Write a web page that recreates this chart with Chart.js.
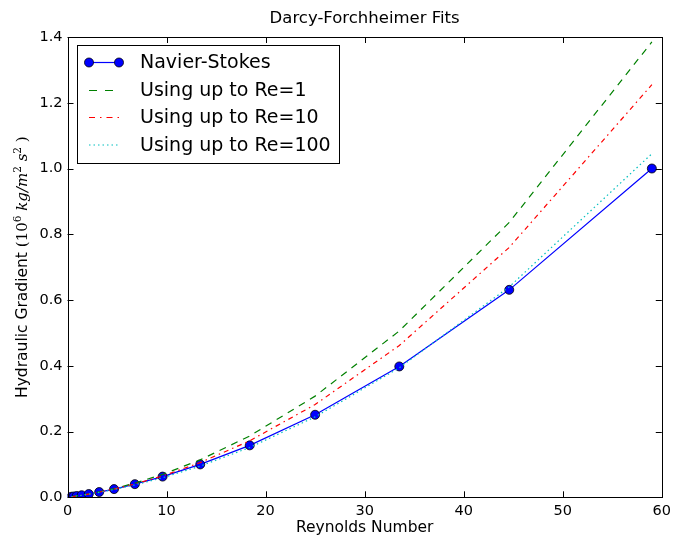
<!DOCTYPE html>
<html>
<head>
<meta charset="utf-8">
<script src="https://cdn.jsdelivr.net/npm/chart.js@4/dist/chart.umd.min.js"></script>
<style>
  html, body { margin: 0; padding: 0; background: #ffffff; }
  #wrap { width: 676px; height: 542px; }
</style>
</head>
<body>
<div id="wrap"><canvas id="c" width="676" height="542"></canvas></div>
<script>
// Reynolds numbers of the simulated cases
const reynolds = [0.38, 0.6, 0.93, 1.43, 2.15, 3.2, 4.7, 6.8, 9.6, 13.4, 18.4, 25.0, 33.5, 44.6, 59.0];
// Hydraulic gradient from the Navier-Stokes runs (10^6 kg/m^2 s^2)
const navierStokes = [0.0016, 0.0025, 0.004, 0.0063, 0.010, 0.016, 0.025, 0.040, 0.063, 0.100, 0.158, 0.251, 0.398, 0.631, 1.000];
// Darcy-Forchheimer fits evaluated at the same Reynolds numbers
const fitRe1   = [0.0016, 0.0026, 0.0041, 0.0065, 0.0103, 0.0165, 0.0265, 0.0430, 0.0696, 0.1139, 0.1866, 0.3077, 0.506, 0.836, 1.385];
const fitRe10  = [0.0015, 0.0025, 0.0039, 0.0062, 0.0098, 0.0156, 0.0250, 0.0404, 0.0649, 0.1056, 0.1719, 0.2821, 0.4617, 0.760, 1.255];
const fitRe100 = [0.0015, 0.0025, 0.0039, 0.0061, 0.0096, 0.0150, 0.0237, 0.0376, 0.0594, 0.0948, 0.1516, 0.2445, 0.394, 0.640, 1.045];
// Axis ticks
const xTicks = [0, 10, 20, 30, 40, 50, 60];
const yTicks = [0.0, 0.2, 0.4, 0.6, 0.8, 1.0, 1.2, 1.4];
const seriesNames = ['Navier-Stokes', 'Using up to Re=1', 'Using up to Re=10', 'Using up to Re=100'];

const pts = ys => reynolds.map((x, i) => ({ x: x, y: ys[i] }));

const SANS = '"DejaVu Sans", "Liberation Sans", sans-serif';
const SERIF = '"DejaVu Serif", "Liberation Serif", serif';

const styles = [
  { color: '#0000ff', dash: [], width: 1.2 },
  { color: '#008000', dash: [7, 6], width: 1.2 },
  { color: '#ff0000', dash: [5, 4, 1.5, 4], width: 1.2 },
  { color: '#00bfbf', dash: [1.5, 3], width: 1.2 }
];

// Frame, inward ticks on every side, title, axis labels and legend
const decorations = {
  id: 'decorations',
  afterDatasetsDraw(chart) {
    const ctx = chart.ctx;
    const a = chart.chartArea;
    const xs = chart.scales.x, ys = chart.scales.y;
    ctx.save();
    ctx.strokeStyle = '#000';
    ctx.lineWidth = 1;
    ctx.setLineDash([]);
    ctx.strokeRect(Math.round(a.left) + 0.5, Math.round(a.top) + 0.5,
                   Math.round(a.right - a.left), Math.round(a.bottom - a.top));
    const tl = 6;
    ctx.beginPath();
    xTicks.forEach(v => {
      const px = Math.round(xs.getPixelForValue(v)) + 0.5;
      ctx.moveTo(px, a.bottom); ctx.lineTo(px, a.bottom - tl);
      ctx.moveTo(px, a.top); ctx.lineTo(px, a.top + tl);
    });
    yTicks.forEach(v => {
      const py = Math.round(ys.getPixelForValue(v)) + 0.5;
      ctx.moveTo(a.left, py); ctx.lineTo(a.left + tl, py);
      ctx.moveTo(a.right, py); ctx.lineTo(a.right - tl, py);
    });
    ctx.stroke();

    // Title
    ctx.fillStyle = '#000';
    ctx.font = '16.5px ' + SANS;
    ctx.textAlign = 'center';
    ctx.textBaseline = 'middle';
    ctx.fillText('Darcy-Forchheimer Fits', (a.left + a.right) / 2, 19);

    // X axis label
    ctx.font = '15.5px ' + SANS;
    ctx.fillText('Reynolds Number', (a.left + a.right) / 2, 528);

    // Y axis label with mathtext-style units
    const parts = [
      { t: 'Hydraulic Gradient ', f: '15.5px ' + SANS, dy: 0 },
      { t: '(10', f: '15px ' + SERIF, dy: 0 },
      { t: '6', f: '10.5px ' + SERIF, dy: -6 },
      { t: ' kg/m', f: 'italic 15px ' + SERIF, dy: 0 },
      { t: '2', f: '10.5px ' + SERIF, dy: -6 },
      { t: ' s', f: 'italic 15px ' + SERIF, dy: 0 },
      { t: '2', f: '10.5px ' + SERIF, dy: -6 },
      { t: ' )', f: '15px ' + SERIF, dy: 0 }
    ];
    let total = 0;
    parts.forEach(p => { ctx.font = p.f; p.w = ctx.measureText(p.t).width; total += p.w; });
    ctx.translate(22, (a.top + a.bottom) / 2);
    ctx.rotate(-Math.PI / 2);
    ctx.textAlign = 'left';
    ctx.textBaseline = 'alphabetic';
    let cx = -total / 2;
    parts.forEach(p => { ctx.font = p.f; ctx.fillText(p.t, cx, 5 + p.dy); cx += p.w; });
    ctx.restore();

    // Legend
    ctx.save();
    const box = { x: 77.5, y: 45.5, w: 262, h: 118 };
    ctx.fillStyle = '#fff';
    ctx.fillRect(box.x, box.y, box.w, box.h);
    ctx.strokeStyle = '#000';
    ctx.lineWidth = 1;
    ctx.strokeRect(box.x, box.y, box.w, box.h);
    const rows = [62.5, 90.5, 117.5, 145];
    const legendDash = [[], [8, 8], [6, 5, 1.5, 5], [1.5, 3]];
    ctx.font = '19px ' + SANS;
    ctx.textBaseline = 'middle';
    ctx.textAlign = 'left';
    seriesNames.forEach((name, i) => {
      const s = styles[i];
      const y = rows[i];
      ctx.strokeStyle = s.color;
      ctx.lineWidth = s.width;
      ctx.setLineDash(legendDash[i]);
      ctx.beginPath();
      ctx.moveTo(89, y); ctx.lineTo(119, y);
      ctx.stroke();
      ctx.setLineDash([]);
      if (i === 0) {
        [89, 119].forEach(px => {
          ctx.beginPath();
          ctx.arc(px, y, 4.5, 0, Math.PI * 2);
          ctx.fillStyle = '#0000ff';
          ctx.fill();
          ctx.strokeStyle = '#000';
          ctx.lineWidth = 0.8;
          ctx.stroke();
        });
      }
      ctx.fillStyle = '#000';
      ctx.fillText(name, 140, y + 1);
    });
    ctx.restore();
  }
};

const ds = (label, ys, s, marker) => ({
  label: label,
  data: pts(ys),
  borderColor: s.color,
  backgroundColor: s.color,
  borderWidth: s.width,
  borderDash: s.dash,
  pointRadius: marker ? 4.5 : 0,
  pointBorderColor: '#000',
  pointBorderWidth: 0.8,
  pointBackgroundColor: '#0000ff',
  tension: 0,
  fill: false
});

new Chart(document.getElementById('c'), {
  type: 'line',
  data: {
    datasets: [
      ds(seriesNames[3], fitRe100, styles[3], false),
      ds(seriesNames[2], fitRe10, styles[2], false),
      ds(seriesNames[1], fitRe1, styles[1], false),
      ds(seriesNames[0], navierStokes, styles[0], true)
    ]
  },
  options: {
    responsive: false,
    animation: false,
    devicePixelRatio: 1,
    layout: { padding: { top: 37, right: 13.5, left: 0, bottom: 0 } },
    plugins: { legend: { display: false }, title: { display: false }, tooltip: { enabled: false } },
    scales: {
      x: {
        type: 'linear', min: 0, max: 60,
        afterFit(scale) { scale.height = 44.7; },
        afterBuildTicks(scale) { scale.ticks = xTicks.map(v => ({ value: v })); },
        grid: { display: false, drawTicks: false },
        border: { display: false },
        ticks: { color: '#000', font: { family: SANS, size: 14.5 }, padding: 5, maxRotation: 0,
                 callback: v => String(v) }
      },
      y: {
        type: 'linear', min: 0, max: 1.4,
        afterFit(scale) { scale.width = 67.5; },
        afterBuildTicks(scale) { scale.ticks = yTicks.map(v => ({ value: v })); },
        grid: { display: false, drawTicks: false },
        border: { display: false },
        ticks: { color: '#000', font: { family: SANS, size: 14.5 }, padding: 5,
                 callback: v => Number(v).toFixed(1) }
      }
    }
  },
  plugins: [decorations]
});
</script>
</body>
</html>
